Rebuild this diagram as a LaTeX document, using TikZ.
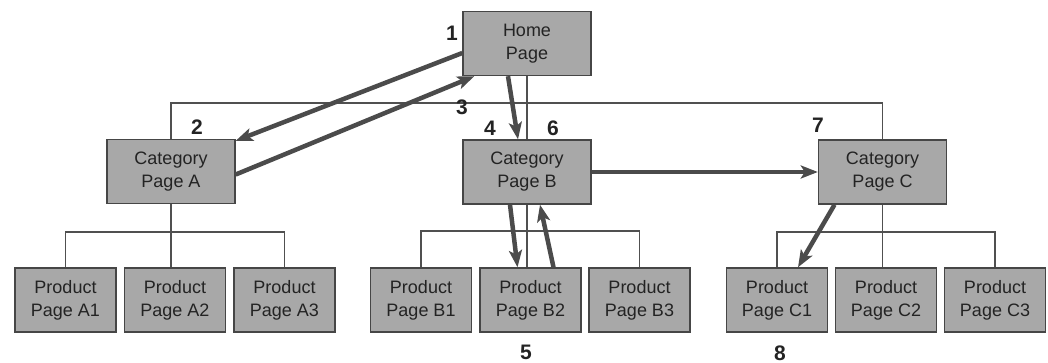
\documentclass[tikz,border=0pt]{standalone}
\usepackage{fontspec}
\setmainfont{Liberation Sans}
\usetikzlibrary{arrows.meta}
\definecolor{boxfill}{RGB}{168,168,168}
\definecolor{boxline}{RGB}{70,70,70}
\definecolor{treeline}{RGB}{80,80,80}
\definecolor{pathcol}{RGB}{75,75,75}
\definecolor{inkcol}{RGB}{35,35,35}
\begin{document}
\begin{tikzpicture}[x=1pt,y=-1pt,
  page/.style={draw=boxline,line width=1.4pt,fill=boxfill,text=inkcol,
    align=center,inner sep=0pt,font=\fontsize{18}{23}\selectfont},
  catbox/.style={page,minimum width=128pt,minimum height=64pt},
  prodbox/.style={page,minimum width=101pt,minimum height=64pt},
  tree/.style={draw=treeline,line width=1.1pt},
  visit/.style={draw=pathcol,line width=4.5pt,
    -{Stealth[length=17pt,width=13pt,inset=4pt]}},
  stepnum/.style={text=inkcol,font=\fontsize{21}{22}\selectfont\bfseries,inner sep=0pt}]
\useasboundingbox (0,0) rectangle (1048,363);

% pages
\node[catbox] (home) at (527,43.5) {Home\\Page};
\node[catbox] (catA) at (171,171.5) {Category\\Page A};
\node[catbox] (catB) at (527,172) {Category\\Page B};
\node[catbox] (catC) at (882.5,172) {Category\\Page C};

\node[prodbox] (A1) at (65.5,300) {Product\\Page A1};
\node[prodbox] (A2) at (175,300) {Product\\Page A2};
\node[prodbox] (A3) at (284.5,300) {Product\\Page A3};
\node[prodbox] (B1) at (421,300) {Product\\Page B1};
\node[prodbox] (B2) at (530.5,300) {Product\\Page B2};
\node[prodbox] (B3) at (639.5,300) {Product\\Page B3};
\node[prodbox] (C1) at (777,300) {Product\\Page C1};
\node[prodbox] (C2) at (886,300) {Product\\Page C2};
\node[prodbox] (C3) at (995,300) {Product\\Page C3};

% site hierarchy
\coordinate (top) at (527,103);
\coordinate (busA) at (171,232);
\coordinate (busB) at (527,231);
\coordinate (busC) at (882.5,232);
\path[tree] (home.south) -- (catB.north);
\path[tree] (catA.north) |- (top) -| (catC.north);
\path[tree] (catA.south) -- (busA) -| (A1.north);
\path[tree] (busA) -| (A3.north);
\path[tree] (busA) -- (busA |- A2.north);
\path[tree] (catB.south) -- (busB) -| (B1.north);
\path[tree] (busB) -| (B3.north);
\path[tree] (busB) -- (busB |- B2.north);
\path[tree] (catC.south) -- (busC) -| (C1.north);
\path[tree] (busC) -| (C3.north);
\path[tree] (busC) -- (busC |- C2.north);

% visitor's path
\path[visit] ([yshift=-9.5pt]home.west) -- ([yshift=-2pt]catA.north east);
\path[visit] ([yshift=-3pt]catA.east) -- ([xshift=12pt]home.south west);
\path[visit] ([xshift=-19pt]home.south) -- ([xshift=-9pt]catB.north);
\path[visit] ([xshift=-17pt]catB.south) -- ([xshift=-13pt]B2.north);
\path[visit] ([xshift=23pt]B2.north) -- ([xshift=13pt]catB.south);
\path[visit] (catB.east) -- (catC.west);
\path[visit] ([xshift=-48pt]catC.south) -- ([xshift=21pt]C1.north);

% step numbers
\node[stepnum] (n1) at (452,33) {1};
\node[stepnum] (n2) at (197,127) {2};
\node[stepnum] (n3) at (462,107) {3};
\node[stepnum] (n4) at (490,128) {4};
\node[stepnum] (n5) at (526,352.5) {5};
\node[stepnum] (n6) at (553,128) {6};
\node[stepnum] (n7) at (818,125) {7};
\node[stepnum] (n8) at (780,353) {8};
\end{tikzpicture}
\end{document}
